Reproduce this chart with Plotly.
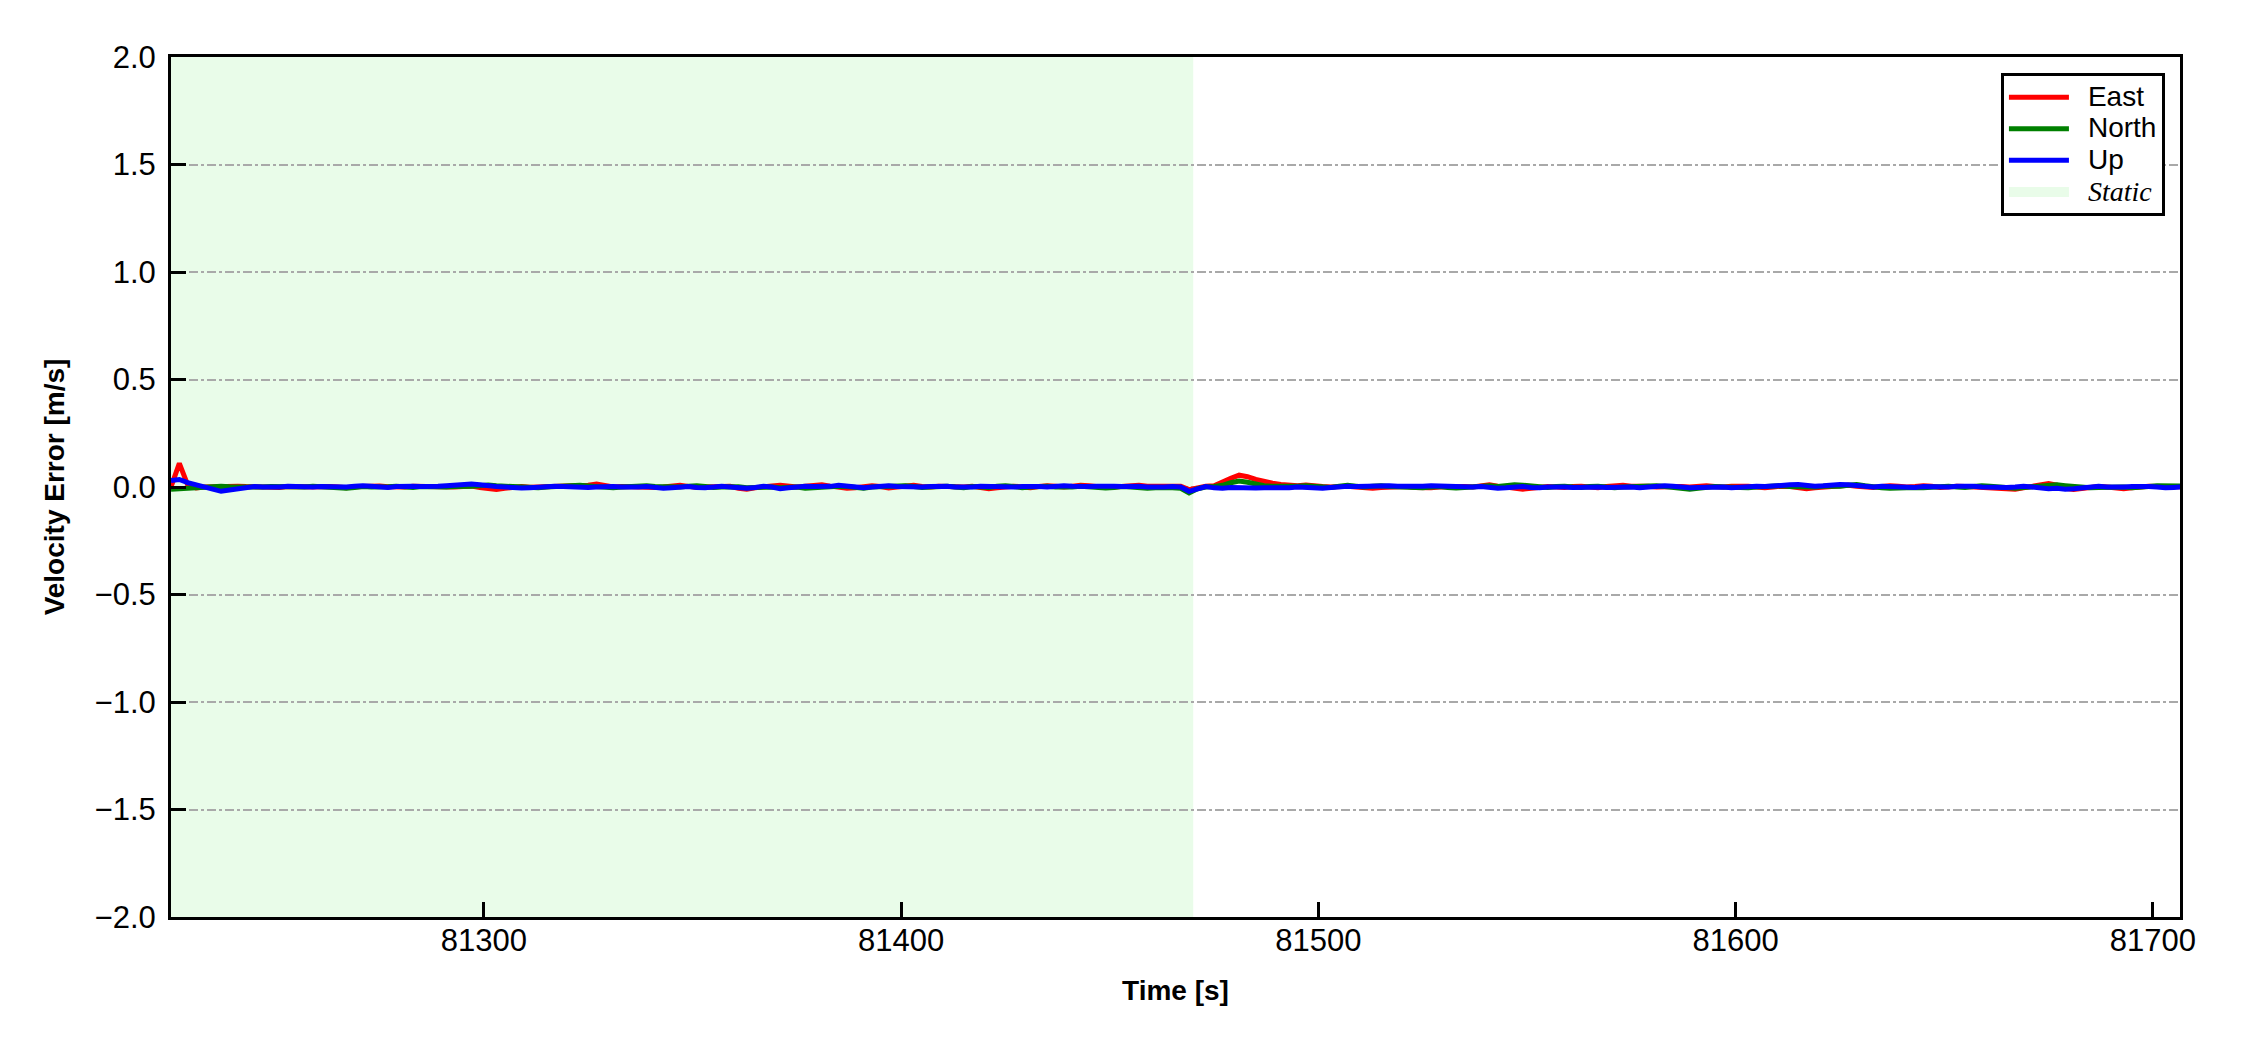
import numpy as np
import plotly.graph_objects as go

# ---- data ----
t_start = 81225
t_step = 2
static_start = 81225
static_end = 81470
x_range = [81225, 81706.5]
y_ticks = [-2.0, -1.5, -1.0, -0.5, 0.0, 0.5, 1.0, 1.5, 2.0]
x_ticks = [81300, 81400, 81500, 81600, 81700]

east = [
    0.0, 0.11, 0.01, -0.004, 0.0, 0.002, 0.003, 0.001, 0.004, 0.002, 0.0, 0.003, 0.001, -0.002, 0.002, 0.004, 0.001, 0.0, 0.003, 0.002,
    0.0, -0.003, 0.001, 0.004, 0.002, 0.005, 0.001, -0.002, 0.0, 0.003, 0.002, 0.0, 0.002, 0.003, 0.0, 0.002, 0.004, -0.002, -0.008, -0.011,
    -0.006, 0.0, 0.002, -0.001, 0.0, 0.002, 0.001, 0.003, 0.002, 0.004, 0.008, 0.014, 0.006, 0.0, 0.002, 0.0, 0.003, 0.001, -0.002, 0.0,
    0.004, 0.008, 0.003, -0.002, 0.0, 0.002, 0.006, 0.003, -0.006, -0.01, -0.004, 0.002, 0.005, 0.008, 0.004, 0.0, 0.003, 0.006, 0.01, 0.004,
    0.0, -0.006, -0.003, 0.002, 0.006, 0.002, -0.004, 0.0, 0.003, 0.008, 0.002, 0.0, 0.004, 0.002, -0.002, 0.0, 0.003, -0.004, -0.008, -0.003,
    0.002, 0.004, 0.0, -0.003, 0.002, 0.006, 0.003, 0.0, 0.004, 0.008, 0.006, 0.002, -0.002, 0.0, 0.004, 0.006, 0.008, 0.004, 0.003, 0.006,
    0.005, 0.003, -0.012, -0.002, 0.004, 0.006, 0.02, 0.04, 0.055, 0.048, 0.035, 0.025, 0.018, 0.012, 0.008, 0.006, 0.009, 0.004, 0.002, 0.0,
    0.002, 0.004, 0.0, -0.004, -0.006, -0.002, 0.0, 0.003, 0.002, -0.002, -0.005, -0.003, 0.0, 0.002, 0.004, 0.002, 0.0, 0.006, 0.01, 0.004,
    0.0, -0.004, -0.01, -0.006, 0.0, 0.002, 0.0, -0.002, 0.002, 0.004, 0.0, -0.003, 0.002, 0.006, 0.008, 0.004, 0.006, 0.003, 0.0, 0.002,
    0.004, 0.002, 0.0, 0.003, 0.006, 0.002, 0.0, 0.004, 0.006, 0.003, 0.0, -0.003, 0.0, 0.004, 0.002, -0.004, -0.008, -0.004, 0.0, 0.003,
    0.006, 0.008, 0.004, 0.0, -0.002, 0.002, 0.006, 0.004, 0.0, 0.002, 0.006, 0.003, -0.002, 0.0, 0.004, 0.002, 0.0, 0.003, 0.001, -0.002,
    -0.006, -0.01, -0.004, 0.002, 0.006, 0.016, 0.008, -0.006, -0.012, -0.008, -0.002, 0.002, 0.0, -0.004, -0.008, -0.003, 0.002, 0.004, 0.002, 0.0,
    0.003, 0.001,
]

north = [
    -0.01, -0.008, -0.004, 0.0, 0.003, 0.002, 0.004, 0.001, 0.0, 0.002, -0.002, 0.0, 0.002, 0.001, -0.001, 0.002, 0.0, 0.003, 0.001, 0.0,
    -0.003, -0.006, -0.002, 0.002, 0.0, -0.002, 0.001, 0.003, 0.0, -0.002, 0.002, 0.0, -0.002, 0.0, 0.002, 0.0, 0.003, 0.006, 0.009, 0.006,
    0.003, 0.002, -0.002, -0.006, -0.004, 0.0, 0.003, 0.001, 0.004, 0.008, 0.005, 0.002, 0.0, -0.003, 0.0, 0.002, 0.004, 0.006, 0.002, 0.0,
    -0.003, 0.0, 0.004, 0.006, 0.002, -0.002, 0.0, 0.003, 0.001, -0.003, -0.002, 0.002, 0.0, -0.004, -0.002, 0.0, -0.006, -0.003, 0.002, 0.0,
    0.004, 0.002, -0.004, -0.006, 0.0, 0.002, 0.0, 0.004, 0.006, 0.002, -0.002, 0.0, 0.002, 0.004, 0.0, -0.003, 0.002, 0.0, -0.002, 0.003,
    0.006, 0.002, -0.003, 0.0, 0.002, 0.004, 0.0, -0.002, 0.0, 0.003, 0.0, -0.003, -0.005, -0.002, 0.002, 0.0, -0.004, -0.006, -0.004, -0.002,
    -0.003, -0.006, -0.028, -0.008, 0.0, 0.002, 0.008, 0.02, 0.028, 0.022, 0.012, 0.006, 0.003, 0.002, 0.0, 0.003, 0.006, 0.002, 0.0, -0.002,
    0.004, 0.008, 0.004, 0.0, 0.003, 0.006, 0.002, 0.0, -0.004, -0.006, -0.003, 0.0, 0.002, -0.002, -0.005, -0.002, 0.0, 0.003, 0.006, 0.002,
    0.006, 0.01, 0.008, 0.004, 0.0, -0.002, 0.002, 0.004, 0.0, -0.002, 0.002, 0.004, 0.0, -0.003, 0.0, 0.002, 0.0, 0.004, 0.006, 0.002,
    -0.002, -0.006, -0.01, -0.006, 0.0, 0.002, 0.0, -0.002, -0.006, -0.004, 0.0, 0.003, 0.002, 0.006, 0.002, 0.0, -0.003, 0.0, 0.004, 0.002,
    0.004, 0.008, 0.012, 0.006, 0.0, -0.003, -0.006, -0.004, 0.0, -0.002, -0.004, 0.0, 0.002, 0.004, 0.0, -0.002, 0.002, 0.006, 0.003, 0.0,
    -0.004, -0.006, -0.002, 0.002, 0.006, 0.008, 0.01, 0.006, 0.002, 0.0, -0.004, -0.002, 0.0, 0.003, 0.0, -0.003, -0.002, 0.002, 0.006, 0.004,
    0.006, 0.005,
]

up = [
    0.03, 0.035, 0.02, 0.008, 0.002, -0.01, -0.02, -0.015, -0.006, 0.0, 0.002, 0.0, -0.002, 0.0, 0.003, 0.001, -0.002, 0.0, 0.002, 0.0,
    -0.002, 0.0, 0.003, 0.006, 0.003, 0.0, -0.002, 0.002, 0.0, 0.003, 0.002, 0.0, 0.003, 0.006, 0.01, 0.012, 0.014, 0.01, 0.004, 0.002,
    0.0, -0.003, -0.005, -0.003, 0.0, 0.002, 0.004, 0.002, 0.0, -0.003, -0.002, 0.0, 0.003, 0.002, 0.0, -0.002, 0.0, 0.002, -0.003, -0.006,
    -0.003, 0.0, 0.002, -0.002, -0.004, 0.0, 0.003, 0.0, -0.004, -0.006, -0.002, 0.003, 0.0, -0.008, -0.004, 0.002, 0.004, 0.002, 0.0, 0.003,
    0.008, 0.004, 0.0, -0.003, 0.0, 0.003, 0.006, 0.002, 0.0, -0.003, 0.0, 0.002, 0.004, 0.003, 0.0, -0.002, 0.0, 0.003, 0.002, 0.0,
    -0.002, 0.0, 0.002, 0.004, 0.002, 0.0, 0.003, 0.006, 0.003, 0.0, 0.002, 0.004, 0.006, 0.004, 0.002, 0.004, 0.003, 0.0, -0.002, 0.0,
    0.002, 0.0, -0.02, -0.006, 0.002, -0.004, -0.006, -0.002, -0.004, -0.006, -0.005, -0.003, -0.004, -0.006, -0.003, 0.0, -0.002, -0.004, -0.006, -0.002,
    0.002, 0.004, 0.002, 0.004, 0.006, 0.008, 0.006, 0.004, 0.003, 0.002, 0.004, 0.006, 0.004, 0.002, 0.0, -0.003, 0.0, 0.002, -0.002, -0.006,
    -0.004, 0.0, 0.002, -0.002, -0.004, 0.0, 0.002, 0.0, -0.002, 0.0, 0.003, 0.0, -0.002, 0.0, 0.002, 0.0, -0.003, 0.0, 0.004, 0.006,
    0.004, 0.0, -0.004, -0.002, 0.0, 0.003, 0.0, -0.003, 0.0, 0.002, 0.004, 0.002, 0.006, 0.008, 0.01, 0.012, 0.008, 0.004, 0.006, 0.01,
    0.012, 0.01, 0.006, 0.002, 0.0, 0.003, 0.002, 0.0, -0.004, -0.002, 0.002, 0.0, -0.003, 0.0, 0.004, 0.006, 0.003, 0.0, -0.002, -0.004,
    -0.002, 0.0, 0.003, 0.0, -0.006, -0.008, -0.006, -0.01, -0.008, -0.004, 0.0, 0.003, 0.0, -0.002, 0.0, 0.002, 0.004, 0.002, 0.0, -0.004,
    -0.002, 0.0,
]

time = t_start + t_step * np.arange(len(east))

FONT = "Liberation Sans, Arial, sans-serif"
STATIC_COLOR = "rgb(233,252,233)"
LEG_TXT = "<span style='font-size:28px'>\u2002{}</span>"

fig = go.Figure()

fig.add_vrect(
    x0=static_start, x1=static_end,
    fillcolor=STATIC_COLOR, line_width=0, layer="below",
)

for name, vals, color in [("East", east, "#ff0000"), ("North", north, "#008000"), ("Up", up, "#0000ff")]:
    fig.add_trace(go.Scatter(
        x=time, y=vals, mode="lines", name=LEG_TXT.format(name),
        line=dict(color=color, width=5),
    ))

# legend entry for the static interval
fig.add_trace(go.Scatter(
    x=[None], y=[None], mode="lines",
    line=dict(color=STATIC_COLOR, width=18),
    name="<span style='font-size:28px'>\u2002</span><span style='font-family:Liberation Serif;font-size:28px'><i>Static</i></span>",
))

fig.update_layout(
    width=2250, height=1050,
    margin=dict(l=163, r=78, t=49, b=141),
    paper_bgcolor="white", plot_bgcolor="white",
    font=dict(family=FONT, size=28, color="black"),
    legend=dict(
        x=0.9925, y=0.981, xanchor="right", yanchor="top",
        bordercolor="black", borderwidth=3, bgcolor="white",
        font=dict(size=22), tracegroupgap=0, itemwidth=60,
        traceorder="normal",
    ),
)

fig.update_xaxes(
    range=x_range, tickvals=x_ticks, tickformat="d",
    showgrid=False, zeroline=False,
    showline=True, linecolor="black", linewidth=3, mirror=True,
    ticks="inside", ticklen=15, tickwidth=3, tickcolor="black",
    tickfont=dict(size=31), ticklabelstandoff=-6,
    title=dict(text="Time [s]", font=dict(size=28, weight="bold"), standoff=24),
)
fig.update_yaxes(
    range=[-2, 2], tickvals=y_ticks, tickformat=".1f",
    showgrid=True, gridcolor="#a9a9a9", gridwidth=2, griddash="dashdot",
    zeroline=False,
    showline=True, linecolor="black", linewidth=3, mirror=True,
    ticks="inside", ticklen=15, tickwidth=3, tickcolor="black",
    tickfont=dict(size=31), ticklabelstandoff=6,
    title=dict(text="Velocity Error [m/s]", font=dict(size=28, weight="bold"), standoff=22),
)

fig.write_html("out.html")
